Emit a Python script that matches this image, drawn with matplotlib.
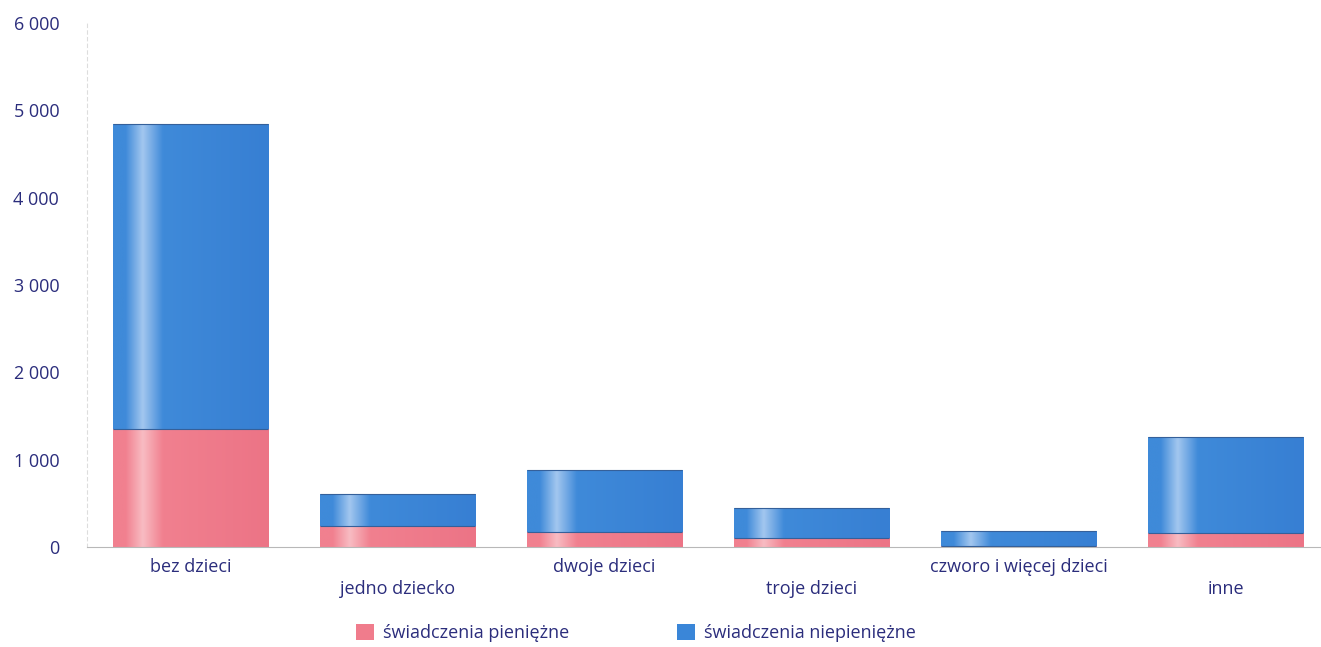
import numpy as np
import matplotlib
matplotlib.use("Agg")
import matplotlib.pyplot as plt
from matplotlib.colors import LinearSegmentedColormap

categories = ["bez dzieci", "jedno dziecko", "dwoje dzieci", "troje dzieci",
              "czworo i więcej dzieci", "inne"]
pieniezne = [1350, 245, 175, 100, 10, 160]
niepieniezne = [3490, 360, 705, 345, 170, 1100]
series_names = ["świadczenia pieniężne", "świadczenia niepieniężne"]
yticks = [0, 1000, 2000, 3000, 4000, 5000, 6000]
ytick_labels = ["0", "1 000", "2 000", "3 000", "4 000", "5 000", "6 000"]

TEXT = "#2b2d7c"
RED = "#f07c8c"
BLUE = "#3a86d8"

plt.rcParams["font.family"] = ["Open Sans", "DejaVu Sans"]


def shade_cmap(base, light, dark):
    # soft highlight stripe near the left edge, like the scanned bars
    return LinearSegmentedColormap.from_list(
        "shade",
        [(0.0, base), (0.08, base), (0.19, light), (0.32, base), (1.0, dark)],
    )


def add_gradient(ax, bars, cmap):
    grad = np.linspace(0, 1, 256)[np.newaxis, :]
    for p in bars:
        x0, y0 = p.get_x(), p.get_y()
        w, h = p.get_width(), p.get_height()
        im = ax.imshow(grad, extent=[x0, x0 + w, y0, y0 + h], aspect="auto",
                       cmap=cmap, zorder=p.get_zorder() + 0.1,
                       interpolation="bicubic")
        im.set_clip_path(p)


fig = plt.figure(figsize=(13.21, 6.47), dpi=100)
ax = fig.add_axes([87 / 1321, 1 - 547 / 647, (1321 - 87) / 1321, (547 - 23) / 647])

x = np.arange(len(categories))
width = 0.75
b1 = ax.bar(x, pieniezne, width, color=RED, edgecolor="none", zorder=2,
            label=series_names[0])
b2 = ax.bar(x, niepieniezne, width, bottom=pieniezne, color=BLUE,
            edgecolor="none", zorder=2, label=series_names[1])
add_gradient(ax, b1, shade_cmap("#f1808f", "#f8bcc3", "#ec7486"))
add_gradient(ax, b2, shade_cmap("#3f8ad9", "#a3c7ef", "#377fd3"))

# thin dark edge on top of each segment
tops1 = np.array(pieniezne)
tops2 = tops1 + np.array(niepieniezne)
ax.hlines(tops1, x - width / 2, x + width / 2, color="#35609a", lw=0.8, zorder=4)
ax.hlines(tops2, x - width / 2, x + width / 2, color="#35609a", lw=0.8, zorder=4)

ax.set_xlim(-0.5, 5.46)
ax.set_ylim(0, 6000)
ax.set_yticks(yticks)
ax.set_yticklabels(ytick_labels)
ax.tick_params(axis="y", length=0, pad=20, labelsize=13, labelcolor=TEXT)
ax.set_xticks([])

for s in ["top", "right"]:
    ax.spines[s].set_visible(False)
ax.spines["bottom"].set_color("#b8b8b8")
ax.spines["left"].set_color("#dddddd")
ax.spines["left"].set_linestyle((0, (3, 3)))

# staggered category labels
for i, c in enumerate(categories):
    off = -20 if i % 2 == 0 else -42
    ax.annotate(c, xy=(i, 0), xytext=(0, off), textcoords="offset pixels",
                ha="center", va="center", fontsize=13, color=TEXT)

leg = fig.legend(handles=[b1, b2], labels=series_names, loc="center",
                 bbox_to_anchor=(636 / 1321, 1 - 633 / 647), ncol=2,
                 frameon=False, fontsize=13, handlelength=1.0, handleheight=1.0,
                 columnspacing=6.0, handletextpad=0.5)
for t in leg.get_texts():
    t.set_color(TEXT)

fig.savefig("out.png", dpi=100)
